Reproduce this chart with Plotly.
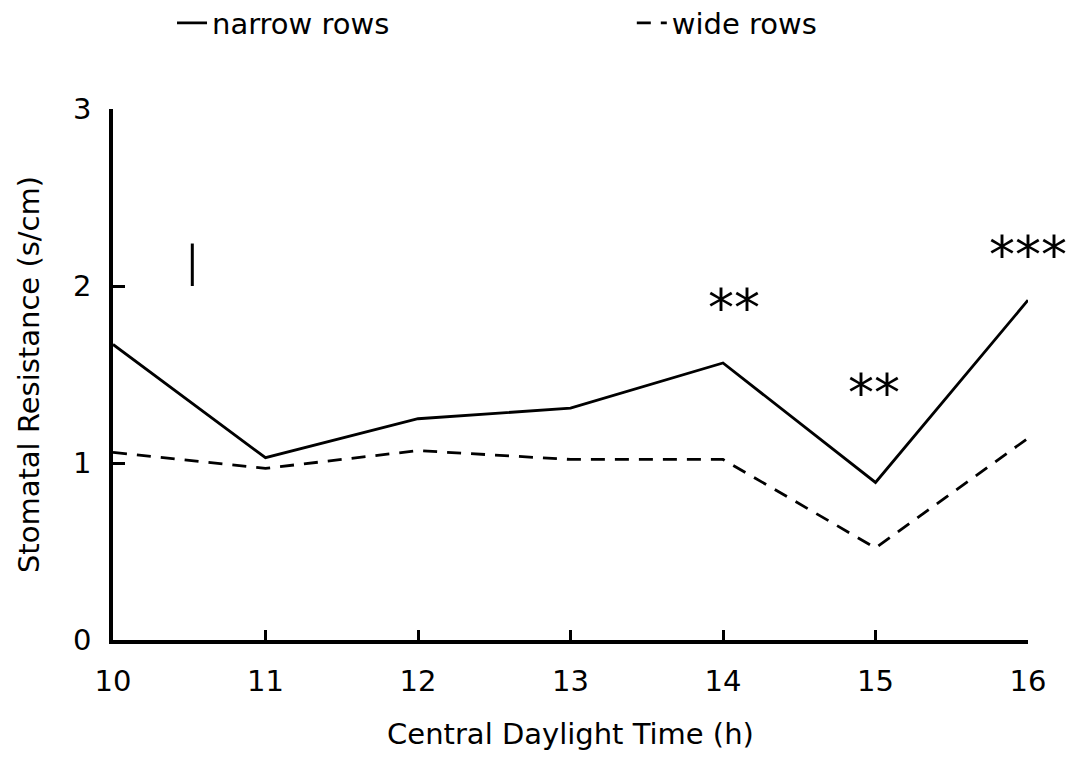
import plotly.graph_objects as go

# Data
hours = [10, 11, 12, 13, 14, 15, 16]
narrow_rows = [1.67, 1.03, 1.25, 1.31, 1.565, 0.89, 1.92]
wide_rows = [1.06, 0.97, 1.07, 1.02, 1.02, 0.52, 1.14]

lsd_x = [10.52, 10.52]
lsd_y = [2.0, 2.24]

sig_labels = ["**", "**", "***"]
sig_x = [14.07, 14.99, 16.0]
sig_y = [1.93, 1.45, 2.23]

x_ticks = [10, 11, 12, 13, 14, 15, 16]
y_ticks = [0, 1, 2, 3]

FONT = "DejaVu Sans"

fig = go.Figure()
fig.add_trace(go.Scatter(x=hours, y=narrow_rows, mode="lines", name="narrow rows",
                         legend="legend",
                         line=dict(color="black", width=2.8)))
fig.add_trace(go.Scatter(x=hours, y=wide_rows, mode="lines", name="wide rows",
                         legend="legend2",
                         line=dict(color="black", width=2.8, dash="14px,10px")))
fig.add_trace(go.Scatter(x=lsd_x, y=lsd_y, mode="lines", showlegend=False,
                         line=dict(color="black", width=3)))

for t, x, y in zip(sig_labels, sig_x, sig_y):
    fig.add_annotation(x=x, y=y, text=t, showarrow=False, xanchor="center", yanchor="middle",
                       yshift=-10, font=dict(family=FONT, size=52, color="black"))

legend_font = dict(family=FONT, size=29, color="black")
fig.update_layout(
    width=1076, height=770,
    margin=dict(l=113, r=48, t=109, b=130, autoexpand=False),
    paper_bgcolor="white", plot_bgcolor="white",
    font=dict(family=FONT, size=29, color="black"),
    legend=dict(orientation="h", x=0.0645, xanchor="left", y=1.162, yanchor="middle",
                font=legend_font, bgcolor="rgba(0,0,0,0)"),
    legend2=dict(orientation="h", x=0.567, xanchor="left", y=1.162, yanchor="middle",
                 font=legend_font, bgcolor="rgba(0,0,0,0)"),
)
fig.update_xaxes(range=[10, 16], tickvals=x_ticks, ticktext=[str(v) for v in x_ticks],
                 showgrid=False, zeroline=False, showline=True, linecolor="black", linewidth=3.5,
                 ticks="inside", ticklen=10, tickwidth=3, tickcolor="black",
                 ticklabelstandoff=12,
                 title=dict(text="Central Daylight Time (h)", standoff=28,
                            font=dict(family=FONT, size=29, color="black")))
fig.update_yaxes(range=[0, 3], tickvals=y_ticks, ticktext=[str(v) for v in y_ticks],
                 showgrid=False, zeroline=False, showline=True, linecolor="black", linewidth=3.5,
                 ticks="inside", ticklen=12, tickwidth=3, tickcolor="black",
                 ticklabelstandoff=12,
                 title=dict(text="Stomatal Resistance (s/cm)", standoff=26,
                            font=dict(family=FONT, size=29, color="black")))

fig.write_html("out.html")
